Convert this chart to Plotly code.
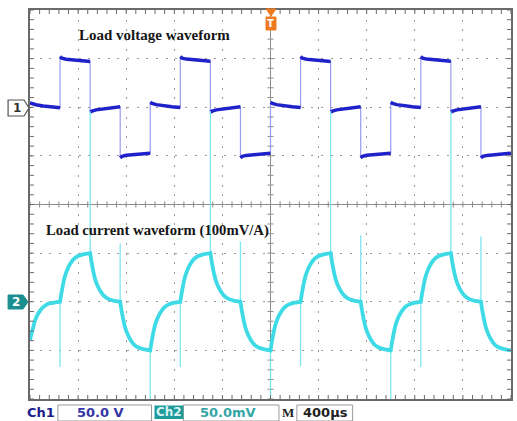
import plotly.graph_objects as go
import numpy as np

# ---------------- data ----------------
# time axis in microseconds (400 us/div, trigger at screen centre)
segment_start_us = [-2000, -1750, -1500, -1250, -1000, -750, -500, -250,
                    0, 250, 500, 750, 1000, 1250, 1500, 1750]
voltage_offsets_us = [0, 15, 50, 110, 180, 250]
# load voltage (V), one list per 250 us segment
voltage_segments_V = [
    [4.5, 3.8, 2.6, 1.4, 0.4, -0.4],
    [52.0, 50.4, 49.4, 48.5, 47.7, 47.0],
    [-5.0, -4.0, -2.7, -1.5, -0.5, 0.4],
    [-52.0, -50.4, -49.4, -48.6, -47.8, -47.2],
    [5.0, 4.0, 2.7, 1.5, 0.5, -0.3],
    [52.0, 50.5, 49.5, 48.6, 47.8, 47.2],
    [-5.0, -4.0, -2.7, -1.5, -0.5, 0.4],
    [-52.0, -50.5, -49.5, -48.7, -47.9, -47.3],
    [5.0, 4.0, 2.7, 1.5, 0.5, -0.3],
    [52.0, 50.4, 49.4, 48.5, 47.7, 47.0],
    [-5.0, -4.0, -2.7, -1.5, -0.5, 0.4],
    [-52.0, -50.4, -49.4, -48.6, -47.8, -47.2],
    [5.0, 4.0, 2.7, 1.5, 0.5, -0.3],
    [52.0, 50.5, 49.5, 48.6, 47.8, 47.2],
    [-5.0, -4.0, -2.7, -1.5, -0.5, 0.4],
    [-52.0, -50.5, -49.5, -48.7, -47.9, -47.3],
]
current_offsets_us = [0, 10, 25, 40, 60, 85, 115, 150, 200, 250]
# load current (A), 100 mV/A probe, 50 mV/div -> 0.5 A/div
current_segments_A = [
    [-0.40, -0.34, -0.27, -0.20, -0.14, -0.09, -0.05, -0.02, -0.01, 0.00],
    [0.00, 0.08, 0.18, 0.26, 0.33, 0.39, 0.44, 0.47, 0.49, 0.50],
    [0.50, 0.42, 0.32, 0.24, 0.17, 0.11, 0.06, 0.03, 0.01, 0.00],
    [0.00, -0.08, -0.18, -0.26, -0.33, -0.39, -0.44, -0.47, -0.49, -0.50],
    [-0.50, -0.42, -0.32, -0.24, -0.17, -0.11, -0.06, -0.03, -0.01, 0.00],
    [0.00, 0.08, 0.18, 0.26, 0.33, 0.39, 0.44, 0.47, 0.49, 0.50],
    [0.50, 0.42, 0.32, 0.24, 0.17, 0.11, 0.06, 0.03, 0.01, 0.00],
    [0.00, -0.08, -0.18, -0.26, -0.33, -0.39, -0.44, -0.47, -0.49, -0.50],
    [-0.50, -0.42, -0.32, -0.24, -0.17, -0.11, -0.06, -0.03, -0.01, 0.00],
    [0.00, 0.08, 0.18, 0.26, 0.33, 0.39, 0.44, 0.47, 0.49, 0.50],
    [0.50, 0.42, 0.32, 0.24, 0.17, 0.11, 0.06, 0.03, 0.01, 0.00],
    [0.00, -0.08, -0.18, -0.26, -0.33, -0.39, -0.44, -0.47, -0.49, -0.50],
    [-0.50, -0.42, -0.32, -0.24, -0.17, -0.11, -0.06, -0.03, -0.01, 0.00],
    [0.00, 0.08, 0.18, 0.26, 0.33, 0.39, 0.44, 0.47, 0.49, 0.50],
    [0.50, 0.42, 0.32, 0.24, 0.17, 0.11, 0.06, 0.03, 0.01, 0.00],
    [0.00, -0.08, -0.18, -0.26, -0.33, -0.39, -0.44, -0.47, -0.49, -0.50],
]
# switching spikes on the current channel
spike_time_us = [-1750, -1500, -1250, -1000, -750, -500, -250, 0,
                 250, 500, 750, 1000, 1250, 1500, 1750]
spike_base_A = [0.0, 0.5, 0.0, -0.5, 0.0, 0.5, 0.0, -0.5,
                0.0, 0.5, 0.0, -0.5, 0.0, 0.5, 0.0]
spike_peak_A = [-0.67, 1.96, 0.60, -1.0, -0.67, 1.96, 0.62, -1.0,
                -0.66, 1.96, 0.68, -1.0, -0.67, 1.96, 0.67]

channel_labels = ["Ch1", "50.0 V", "Ch2", "50.0mV", "M", "400µs"]
titles = ["Load voltage waveform", "Load current waveform (100mV/A)"]

# ---------------- geometry helpers ----------------
W, H = 517, 421
L, R, T, B = 30, 4, 10, 22
PW, PH = W - L - R, H - T - B


def px(x):
    return (x - L) / PW


def py(y):
    return (H - B - y) / PH


# ---------------- build traces ----------------
vx_all, vy_all, vx_seg, vy_seg = [], [], [], []
for start, vals in zip(segment_start_us, voltage_segments_V):
    ts = [start + o for o in voltage_offsets_us]
    vx_all += ts
    vy_all += vals
    vx_seg += ts + [None]
    vy_seg += vals + [None]

ix, iy = [], []
for start, vals in zip(segment_start_us, current_segments_A):
    ix += [start + o for o in current_offsets_us]
    iy += vals

sx, sy = [], []
for t, b, p in zip(spike_time_us, spike_base_A, spike_peak_A):
    sx += [t, t, None]
    sy += [b, p, None]

fig = go.Figure()
fig.add_trace(go.Scatter(x=sx, y=sy, yaxis="y2", mode="lines",
                         line=dict(color="rgba(120,228,238,0.95)", width=1.3),
                         hoverinfo="skip", showlegend=False))
fig.add_trace(go.Scatter(x=ix, y=iy, yaxis="y2", mode="lines",
                         line=dict(color="#3edbe6", width=3.8, shape="spline", smoothing=0.3),
                         showlegend=False))
fig.add_trace(go.Scatter(x=vx_all, y=vy_all, mode="lines",
                         line=dict(color="#9a9cf0", width=1.2),
                         hoverinfo="skip", showlegend=False))
fig.add_trace(go.Scatter(x=vx_seg, y=vy_seg, mode="lines",
                         line=dict(color="#1f22c9", width=3.5),
                         showlegend=False))

# ---------------- graticule ----------------
XR = [-2000, 2000]
YR = [-300, 100]   # voltage axis: 50 V/div, ground 2 div below top
YR2 = [-1.0, 3.0]  # current axis: 0.5 A/div, ground 2 div above bottom
grid = dict(showgrid=True, gridcolor="#9a9a9a", gridwidth=1, griddash="2px,7.7px",
            zeroline=False, showticklabels=False, ticks="", showline=True,
            mirror=True, linecolor="#6a6a6a", linewidth=2, fixedrange=True)
fig.update_layout(
    width=W, height=H,
    margin=dict(l=L, r=R, t=T, b=B),
    paper_bgcolor="white", plot_bgcolor="white",
    xaxis=dict(range=XR, dtick=400, tick0=0, **grid),
    yaxis=dict(range=YR, dtick=50, tick0=0, **grid),
    yaxis2=dict(range=YR2, overlaying="y", showgrid=False, zeroline=False,
                showticklabels=False, ticks="", showline=False, fixedrange=True),
)

shapes = []
tick_px = 4
gray = "#6a6a6a"
# centre cross
shapes.append(dict(type="line", xref="x", yref="paper", x0=0, x1=0, y0=0, y1=1,
                   line=dict(color="#8a8a8a", width=1), layer="below"))
shapes.append(dict(type="line", xref="paper", yref="y", x0=0, x1=1, y0=-100, y1=-100,
                   line=dict(color="#8a8a8a", width=1), layer="below"))
for tx in np.arange(XR[0], XR[1] + 1, 80):
    shapes.append(dict(type="line", xref="x", yref="paper", x0=tx, x1=tx,
                       y0=1, y1=1 - tick_px / PH, line=dict(color=gray, width=1)))
    shapes.append(dict(type="line", xref="x", yref="paper", x0=tx, x1=tx,
                       y0=0, y1=tick_px / PH, line=dict(color=gray, width=1)))
    shapes.append(dict(type="line", xref="x", yref="paper", x0=tx, x1=tx,
                       y0=0.5 - 3 / PH, y1=0.5 + 3 / PH,
                       line=dict(color="#8a8a8a", width=1), layer="below"))
for ty in np.arange(YR[0], YR[1] + 1, 10):
    shapes.append(dict(type="line", xref="paper", yref="y", x0=0, x1=tick_px / PW,
                       y0=ty, y1=ty, line=dict(color=gray, width=1)))
    shapes.append(dict(type="line", xref="paper", yref="y", x0=1, x1=1 - tick_px / PW,
                       y0=ty, y1=ty, line=dict(color=gray, width=1)))
    shapes.append(dict(type="line", xref="paper", yref="y", x0=0.5 - 3 / PW,
                       x1=0.5 + 3 / PW, y0=ty, y1=ty,
                       line=dict(color="#8a8a8a", width=1), layer="below"))


def path(points):
    s = "M " + " L ".join(f"{px(a):.5f},{py(b):.5f}" for a, b in points) + " Z"
    return s


# channel markers
shapes.append(dict(type="path", xref="paper", yref="paper",
                   path=path([(8, 100), (24, 100), (29, 108), (24, 116), (8, 116)]),
                   fillcolor="white", line=dict(color="#555", width=1.2)))
shapes.append(dict(type="path", xref="paper", yref="paper",
                   path=path([(8, 295), (23, 295), (28, 302), (23, 309), (8, 309)]),
                   fillcolor="#1b8f8f", line=dict(color="#1b8f8f", width=1)))
# trigger marker
shapes.append(dict(type="path", xref="paper", yref="paper",
                   path=path([(267, 9), (277, 9), (272, 16)]),
                   fillcolor="#f07a1e", line=dict(color="#f07a1e", width=1)))
shapes.append(dict(type="rect", xref="paper", yref="paper",
                   x0=px(267), x1=px(277), y0=py(17), y1=py(30),
                   fillcolor="#f07a1e", line=dict(color="#f07a1e", width=1)))
# status bar boxes
for x0, x1 in [(58, 152), (184, 280), (298, 354)]:
    shapes.append(dict(type="rect", xref="paper", yref="paper",
                       x0=px(x0), x1=px(x1), y0=py(405), y1=py(421),
                       fillcolor="white", line=dict(color="#9a9a9a", width=1)))
shapes.append(dict(type="rect", xref="paper", yref="paper",
                   x0=px(155), x1=px(184), y0=py(405.5), y1=py(419),
                   fillcolor="#1f9a9a", line=dict(color="#1f9a9a", width=0)))
fig.update_layout(shapes=shapes)

ann = []


def text(s, x, y, size, color, family="DejaVu Sans", bold=True, xanchor="center"):
    ann.append(dict(text=f"<b>{s}</b>" if bold else s, x=px(x), y=py(y),
                    xref="paper", yref="paper", showarrow=False,
                    xanchor=xanchor, yanchor="middle",
                    font=dict(size=size, color=color, family=family)))


text(titles[0], 155, 35, 15, "#161616", family="Liberation Serif")
text(titles[1], 158.5, 231, 14.7, "#161616", family="Liberation Serif")
text("1", 16.5, 108, 12, "#333")
text("2", 15.5, 302, 12, "white")
text("T", 272, 23.5, 10, "white")
text(channel_labels[0], 41.5, 412, 13, "#1c1c8c")
text(channel_labels[1], 100.5, 412, 13, "#3535a5")
text(channel_labels[2], 169.5, 412, 12, "#d8f4f4")
text(channel_labels[3], 228.5, 412, 13, "#34a6a6")
text(channel_labels[4], 289, 412, 13, "#222", family="Liberation Serif")
text(channel_labels[5], 327, 412, 13, "#222")
fig.update_layout(annotations=ann)

fig.write_html(
    "out.html",
    config={"displayModeBar": False},
    post_script="document.body.style.margin='0';document.body.style.overflow='hidden';",
)
